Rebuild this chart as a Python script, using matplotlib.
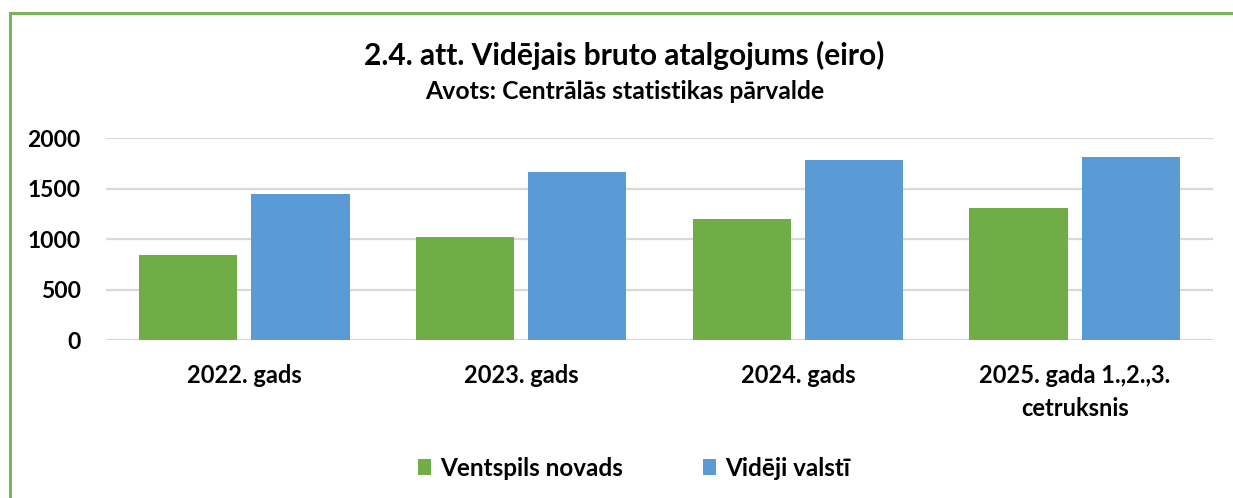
import matplotlib
matplotlib.use("Agg")
import matplotlib.pyplot as plt
from matplotlib.patches import Rectangle
import numpy as np

categories = ["2022. gads", "2023. gads", "2024. gads", "2025. gada 1.,2.,3.\ncetruksnis"]
ventspils = [843, 1015, 1200, 1309]
valsti = [1445, 1663, 1785, 1815]
series_names = ["Ventspils novads", "Vidēji valstī"]
yticks = [0, 500, 1000, 1500, 2000]

plt.rcParams['font.family'] = ['Lato', 'DejaVu Sans']

W, H = 1233, 498
fig = plt.figure(figsize=(W/100, H/100), dpi=100)

# border (cropped chart box)
fig.add_artist(Rectangle((9.5/W, -0.1), 1.2, (H-13.5)/H + 0.1, transform=fig.transFigure,
                         fill=False, edgecolor='#7DB35A', linewidth=2.2))

ax = fig.add_axes([106/W, 1-340/H, (1213-106)/W, (340-138)/H])
x = np.arange(len(categories))
bw = 0.355
off = 0.203
green = '#70AD47'
blue = '#5B9BD5'
ax.bar(x - off, ventspils, bw, color=green, label=series_names[0], zorder=3)
ax.bar(x + off, valsti, bw, color=blue, label=series_names[1], zorder=3)

ax.set_xlim(-0.5, len(categories) - 0.5)
ax.set_ylim(0, 2000)
ax.set_yticks(yticks)
ax.set_yticklabels([str(v) for v in yticks], fontsize=16.5, fontweight='bold')
ax.yaxis.grid(True, color='#D9D9D9', linewidth=1.6, zorder=0)
ax.set_axisbelow(True)
for s in ax.spines.values():
    s.set_visible(False)
ax.tick_params(axis='y', length=0, pad=18)
ax.tick_params(axis='x', length=0, pad=17)
ax.set_xticks(x)
ax.set_xticklabels(categories, fontsize=17, fontweight='bold', linespacing=1.55, va='top')

fig.text(624/W, 1-55/H, "2.4. att. Vidējais bruto atalgojums (eiro)", ha='center', va='center',
         fontsize=21.5, fontweight='bold')
fig.text(625/W, 1-91/H, "Avots: Centrālās statistikas pārvalde", ha='center', va='center',
         fontsize=17.8, fontweight='bold')

fig.legend(loc='center', bbox_to_anchor=(634/W, 1-468/H), ncol=2, frameon=False,
           prop={'size': 17.5, 'weight': 'bold'}, handlelength=0.55, handleheight=0.6,
           columnspacing=3.3, handletextpad=0.35)

fig.savefig("out.png", dpi=100)
